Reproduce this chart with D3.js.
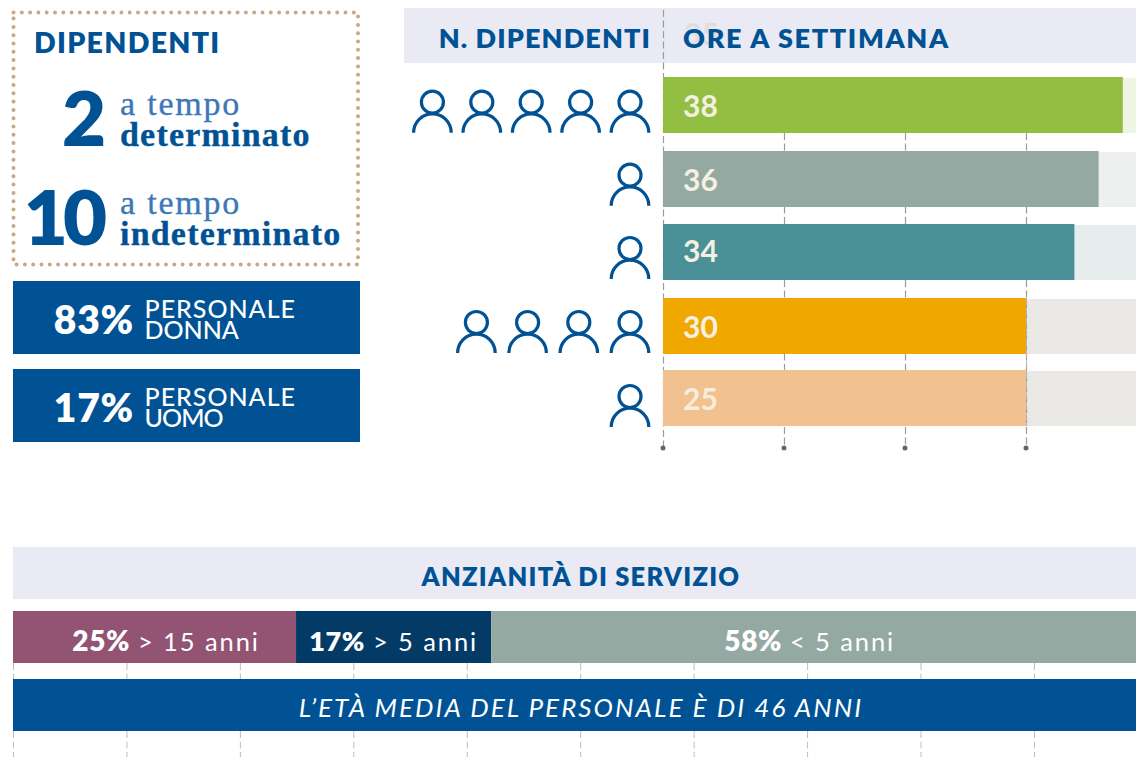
<!DOCTYPE html>
<html><head><meta charset="utf-8">
<style>html,body{margin:0;padding:0;background:#fff;overflow:hidden}svg{display:block}text{font-family:Lato,sans-serif}</style>
<script src="https://cdn.jsdelivr.net/npm/d3@7"></script></head><body>
<script>
const hourLabels=["38","36","34","30","25"];
const hourBars=[38,36,34,30,30];
const staffCounts=[5,1,1,4,1];
const barColors=["#92BF41","#95A9A3","#4B9097","#F0A800","#F1C28F"];
const trackColors=["#EEF5E3","#EEF0EF","#E7ECED","#EBE9E5","#EBE9E5"];
const hourTicks=[0,10,20,30];
const seniorityValues=[24.95,17.2,57.85];
const seniorityPct=["25%","17%","58%"];
const seniorityText=["> 15 anni","> 5 anni","< 5 anni"];
const seniorityColors=["#925472","#033B66","#95A9A3"];
const pctTicks=[0,10,20,30,40,50,60,70,80,90];
const genderPct=["83%","17%"];
const genderText=["DONNA","UOMO"];

const W=1136,H=757,BLUE="#005294",LIGHT="#3E77B7",SERIF="'Liberation Serif',serif";
const svg=d3.select("body").append("svg").attr("width",W).attr("height",H);
const T=(x,y,s,size,weight,fill,ls,anchor,extra)=>{const t=svg.append("text").attr("x",x).attr("y",y).text(s)
 .attr("font-size",size).attr("font-weight",weight).attr("fill",fill).attr("letter-spacing",ls||0).attr("text-anchor",anchor||"start");
 if(extra)extra(t);return t;};
const serif=t=>t.style("font-family",SERIF).attr("stroke",t.attr("fill")).attr("stroke-width",.35);

// left box
svg.append("rect").attr("x",13.5).attr("y",12.5).attr("width",344.5).attr("height",252).attr("fill","none")
 .attr("stroke","#C9A882").attr("stroke-width",4).attr("stroke-linecap","round").attr("stroke-dasharray","0 8.3");
T(34,53,"DIPENDENTI",28.5,800,BLUE,1.3);
T(106,146,"2",76,800,BLUE,0,"end");
T(102,245,"10",76,800,BLUE,-5,"end");
T(120,115,"a tempo",34,400,LIGHT,1.8,"start",serif);
T(120,146,"determinato",34,700,BLUE,1.2,"start",serif);
T(120,214,"a tempo",34,400,LIGHT,1.8,"start",serif);
T(120,245,"indeterminato",34,700,BLUE,1.2,"start",serif);

// gender boxes
const gy=d3.scaleOrdinal().domain(genderText).range([281,369]);
const genderSpacing=[0,-0.9];
genderText.forEach((g,i)=>{const y=gy(g);
 svg.append("rect").attr("x",13).attr("y",y).attr("width",347).attr("height",73).attr("fill",BLUE);
 T(134,y+53,genderPct[i],39,800,"#fff",.8,"end");
 T(144.5,y+37,"PERSONALE",25,500,"#fff",1);
 T(144.5,y+58,g,25,500,"#fff",genderSpacing[i]);
});

// hours chart
const x=d3.scaleLinear().domain([0,40]).range([663,1147]);
const rowTops=[77,151,224,298,370];
const labelOffset=[40,40,38,40,40];
const y=d3.scaleOrdinal().domain(hourLabels).range(rowTops);
const barH=56;
svg.append("rect").attr("x",404).attr("y",8).attr("width",732).attr("height",55).attr("fill","#EAEAF4");
T(684,45,"35",30,700,"#E0DDDB",0);
const trackG=svg.append("g");
hourLabels.forEach((h,i)=>{
 trackG.append("rect").attr("x",x(0)).attr("y",y(h)+1).attr("width",W-x(0)).attr("height",barH-1).attr("fill",trackColors[i]);
});
hourTicks.forEach(t=>{
 svg.append("line").attr("x1",x(t)+.5).attr("x2",x(t)+.5).attr("y1",t===0?10:133).attr("y2",447)
  .attr("stroke","#9b9b9b").attr("stroke-width",1.2).attr("stroke-dasharray","7 3.5");
});
hourLabels.forEach((h,i)=>{
 svg.append("rect").attr("x",x(0)).attr("y",y(h)).attr("width",x(hourBars[i])-x(0)).attr("height",barH).attr("fill",barColors[i]);
 T(683,y(h)+labelOffset[i],h,30,700,i===4?"#F7EDDD":"#F5F0E1",0);
});
svg.append("line").attr("x1",x(30)+.5).attr("x2",x(30)+.5).attr("y1",298).attr("y2",426).attr("stroke","#B9B4AC").attr("stroke-width",1).attr("stroke-dasharray","7 3.5");
hourTicks.forEach(t=>svg.append("circle").attr("cx",x(t)).attr("cy",448).attr("r",2.5).attr("fill","#666"));
T(651,48,"N. DIPENDENTI",27,800,BLUE,1.1,"end");
T(683,48,"ORE A SETTIMANA",27,800,BLUE,1.65);

// person icons
const iconStep=[49.4,0,0,51.2,0];
const iconBottom=[132.7,205.7,279,353,427];
staffCounts.forEach((n,i)=>{
 d3.range(n).forEach(k=>{
  const cx=630-k*iconStep[i],b=iconBottom[i];
  const g=svg.append("g").attr("fill","none").attr("stroke",BLUE).attr("stroke-width",3.2);
  g.append("circle").attr("cx",cx).attr("cy",b-30.5).attr("r",11);
  g.append("path").attr("d",d3.arc()({innerRadius:18.8,outerRadius:18.8,startAngle:-Math.PI/2,endAngle:Math.PI/2})).attr("transform",`translate(${cx},${b})`);
 });
});

// seniority
const p=d3.scaleLinear().domain([0,100]).range([13,1147.4]);
svg.append("rect").attr("x",13).attr("y",547).attr("width",1123).attr("height",52).attr("fill","#EAEAF4");
T(581,586,"ANZIANITÀ DI SERVIZIO",25.5,800,BLUE,1.25,"middle");
pctTicks.forEach(t=>{
 [[663,679],[731,757]].forEach(([a,b])=>svg.append("line").attr("x1",p(t)+.5).attr("x2",p(t)+.5).attr("y1",a).attr("y2",b)
  .attr("stroke","#bdbdbd").attr("stroke-width",1).attr("stroke-dasharray","7 3.5"));
});
let acc=0;
const pctEnd=[130,365,782], pctSize=[28,27,28], txtStart=[138,373,790];
seniorityValues.forEach((v,i)=>{
 svg.append("rect").attr("x",p(acc)).attr("y",611).attr("width",Math.min(p(acc+v),W)-p(acc)).attr("height",52).attr("fill",seniorityColors[i]);
 T(pctEnd[i],651,seniorityPct[i],pctSize[i],800,"#fff",.6,"end");
 T(txtStart[i],651,seniorityText[i],25.5,400,"#fff",1.9);
 acc+=v;
});
svg.append("rect").attr("x",13).attr("y",679).attr("width",1123).attr("height",52).attr("fill",BLUE);
T(581,717,"L’ETÀ MEDIA DEL PERSONALE È DI 46 ANNI",26,400,"#fff",2.05,"middle",t=>t.attr("font-style","italic"));
</script></body></html>
